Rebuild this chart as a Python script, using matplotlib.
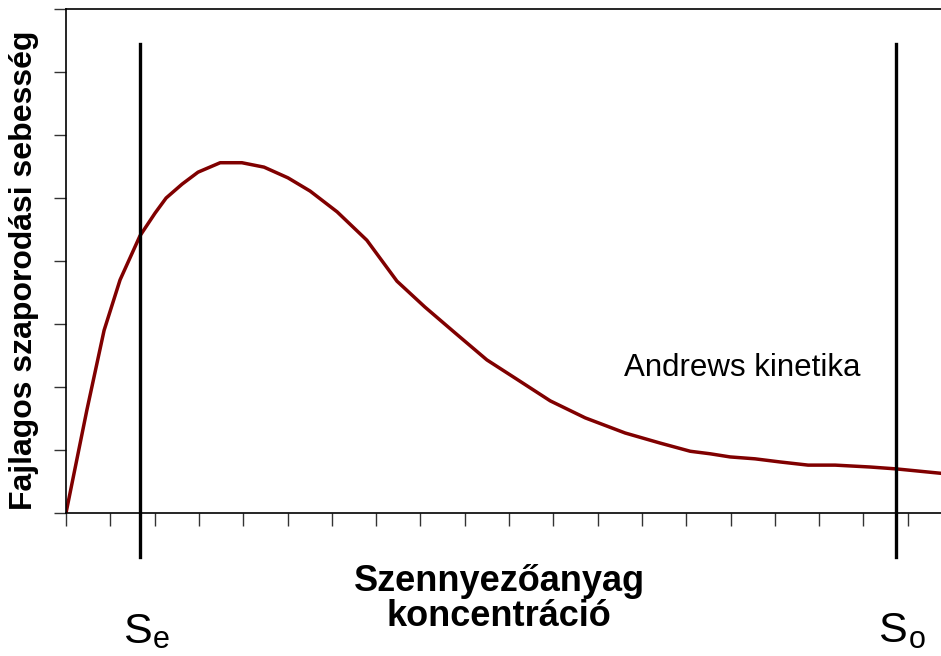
import matplotlib.pyplot as plt
import numpy as np

plt.rcParams['font.family'] = ['Liberation Sans', 'DejaVu Sans']

# Andrews-kinetika gorbe (leolvasott ertekek)
conc = [0, 0.47, 0.86, 1.22, 1.67, 2.01, 2.26, 2.62, 2.98, 3.48, 3.97, 4.47,
        5.01, 5.51, 6.12, 6.79, 7.47, 8.10, 8.78, 9.50, 10.14, 10.93, 11.72,
        12.62, 13.41, 14.09, 14.54, 14.99, 15.55, 16.12, 16.75, 17.36, 18.15,
        18.74, 19.75]
rate = [0, 1.63, 2.90, 3.70, 4.40, 4.76, 5.00, 5.22, 5.41, 5.56, 5.56, 5.49,
        5.32, 5.11, 4.78, 4.33, 3.68, 3.27, 2.86, 2.43, 2.14, 1.78, 1.51,
        1.27, 1.11, 0.98, 0.94, 0.89, 0.86, 0.81, 0.76, 0.76, 0.73,
        0.70, 0.63]

Se_x = 1.67
So_x = 18.74
vline_y = [-0.70, 7.44]

fig = plt.figure(figsize=(9.41, 6.56), dpi=100)
ax = fig.add_axes([66/941, 143/656, 1 - 66/941, 504/656])

ax.plot(conc, rate, color='#800000', lw=2.5, solid_joinstyle='round')

# Se es So fuggoleges vonalak
for xv in (Se_x, So_x):
    ax.plot([xv, xv], vline_y, color='black', lw=2.4, clip_on=False)

ax.set_xlim(0, 19.75)
ax.set_ylim(0, 8)
ax.set_xticks(np.arange(0, 20))
ax.set_yticks(np.arange(0, 9))
ax.set_xticklabels([])
ax.set_yticklabels([])
ax.tick_params(axis='both', direction='out', length=9, width=1, color='#333333')
ax.spines['right'].set_visible(False)
for s in ('left', 'bottom', 'top'):
    ax.spines[s].set_linewidth(1.2)

ax.text(12.6, 2.3, 'Andrews kinetika', fontsize=22.5, ha='left', va='center')

fig.text(24/941, 1 - 270/656, 'Fajlagos szaporodási sebesség', rotation=90,
         fontsize=23, fontweight='bold', ha='center', va='center')
fig.text(499/941, 1 - 599/656, 'Szennyezőanyag\nkoncentráció', fontsize=26,
         fontweight='bold', ha='center', va='center', linespacing=1.02)

# S_e es S_o feliratok
fig.text(123/941, 1 - 643/656, 'S', fontsize=31, ha='left', va='baseline')
fig.text(153/941, 1 - 648/656, 'e', fontsize=22, ha='left', va='baseline')
fig.text(878/941, 1 - 642/656, 'S', fontsize=31, ha='left', va='baseline')
fig.text(909/941, 1 - 648/656, 'o', fontsize=22, ha='left', va='baseline')

fig.savefig('out.png', dpi=100)
